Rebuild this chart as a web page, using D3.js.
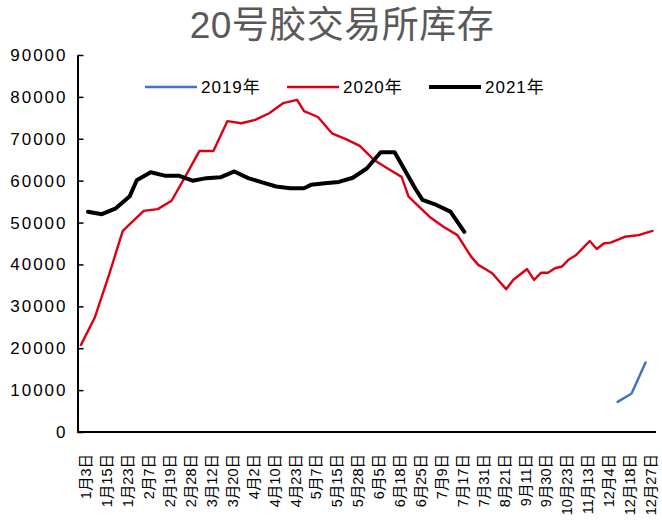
<!DOCTYPE html>
<html>
<head>
<meta charset="utf-8">
<script src="https://cdn.jsdelivr.net/npm/d3@7/dist/d3.min.js"></script>
<style>
  html, body { margin: 0; padding: 0; background: #fff; }
  svg { display: block; }
  text { font-family: "Liberation Sans", Arial, "Noto Sans CJK SC", sans-serif; }
</style>
</head>
<body>
<svg id="chart" width="662" height="526"></svg>
<script>
// Weekly exchange stock of TSR20 rubber, one line per year,
// drawn on a shared month-day category axis.
const categories = ["1月3日","1月8日","1月10日","1月15日","1月17日","1月22日","1月23日","1月29日",
  "2月5日","2月7日","2月10日","2月14日","2月19日","2月21日","2月26日","2月28日",
  "3月5日","3月6日","3月12日","3月13日","3月19日","3月20日","3月26日","3月27日",
  "4月2日","4月3日","4月9日","4月10日","4月16日","4月17日","4月23日","4月24日","4月30日",
  "5月7日","5月8日","5月14日","5月15日","5月21日","5月22日","5月28日","5月29日",
  "6月4日","6月5日","6月11日","6月12日","6月18日","6月19日","6月24日","6月25日",
  "7月2日","7月3日","7月9日","7月10日","7月16日","7月17日","7月23日","7月24日","7月31日",
  "8月7日","8月14日","8月21日","8月28日",
  "9月4日","9月11日","9月18日","9月25日","9月30日",
  "10月9日","10月16日","10月23日","10月30日",
  "11月6日","11月13日","11月20日","11月27日",
  "12月4日","12月11日","12月13日","12月18日","12月20日","12月25日","12月27日","12月31日"];

const dates2019 = ["12月13日","12月20日","12月27日"];
const values2019 = [7200, 9200, 16600];

const dates2020 = ["1月3日","1月10日","1月17日","1月23日","2月7日","2月14日","2月21日","2月28日",
  "3月6日","3月13日","3月20日","3月27日","4月3日","4月10日","4月17日","4月24日","4月30日",
  "5月8日","5月15日","5月22日","5月29日","6月5日","6月12日","6月19日","6月24日",
  "7月3日","7月10日","7月17日","7月24日","7月31日","8月7日","8月14日","8月21日","8月28日",
  "9月4日","9月11日","9月18日","9月25日","9月30日","10月9日","10月16日","10月23日","10月30日",
  "11月6日","11月13日","11月20日","11月27日","12月4日","12月11日","12月18日","12月25日","12月31日"];
const values2020 = [20800, 27400, 37400, 48000, 52800, 53200, 55200, 61100,
  67100, 67100, 74200, 73700, 74500, 76100, 78500, 79300, 76600,
  75200, 71300, 69900, 68300, 65000, 62900, 60900, 56200,
  51400, 49000, 47000, 41800, 39900, 38900, 37900, 36000, 34100,
  36300, 37600, 38900, 36300, 38000, 38000, 39100, 39500, 41200,
  42200, 43900, 45600, 43700, 45000, 45200, 46600, 47000, 48000];

const dates2021 = ["1月8日","1月15日","1月22日","1月29日","2月5日","2月10日","2月19日","2月26日",
  "3月5日","3月12日","3月19日","3月26日","4月2日","4月9日","4月16日","4月23日","4月30日",
  "5月7日","5月14日","5月21日","5月28日","6月4日","6月11日","6月18日","6月25日",
  "7月2日","7月9日","7月16日","7月23日"];
const values2021 = [52600, 52000, 53400, 56300, 60100, 62000, 61200, 61200,
  60000, 60600, 60800, 62200, 60600, 59600, 58600, 58200, 58200,
  59000, 59400, 59700, 60700, 62900, 66800, 66800, 58000,
  55400, 54200, 52600, 47800];

const yTicks = [0, 10000, 20000, 30000, 40000, 50000, 60000, 70000, 80000, 90000];
const seriesNames = ["2019年", "2020年", "2021年"];
const seriesColors = ["#4472C4", "#DC0010", "#000000"];
const seriesWidths = [2.5, 2.4, 4];

const series = [
  { name: seriesNames[0], dates: dates2019, values: values2019 },
  { name: seriesNames[1], dates: dates2020, values: values2020 },
  { name: seriesNames[2], dates: dates2021, values: values2021 }
].map((s, i) => ({
  ...s, color: seriesColors[i], width: seriesWidths[i],
  points: s.dates.map((d, j) => ({ cat: d, v: s.values[j] }))
}));

const svg = d3.select("#chart");
const plotLeft = 77.5, plotRight = 656, plotTop = 55, plotBottom = 432;

const x = d3.scalePoint().domain(categories).range([plotLeft, plotRight]).padding(0.5);
const y = d3.scaleLinear().domain([0, 90000]).range([plotBottom, plotTop]);

// title
svg.append("text")
  .attr("x", 342).attr("y", 38)
  .attr("text-anchor", "middle")
  .attr("fill", "#595959")
  .style("font-size", "37px")
  .style("letter-spacing", "0.5px")
  .text("20号胶交易所库存");

// y axis with inward ticks
const yAxis = svg.append("g")
  .attr("transform", `translate(${plotLeft},0)`)
  .call(d3.axisLeft(y).tickValues(yTicks).tickSizeInner(-6).tickSizeOuter(0).tickPadding(10)
    .tickFormat(d3.format("d")));
yAxis.select(".domain").attr("stroke", "#000").attr("stroke-width", 2);
yAxis.selectAll(".tick line").attr("stroke", "#000").attr("stroke-width", 1.5);
yAxis.selectAll(".tick text")
  .attr("fill", "#000")
  .style("font-size", "17px")
  .style("letter-spacing", "2px");

// x axis: every third category labelled, rotated
const xAxis = svg.append("g")
  .attr("transform", `translate(0,${plotBottom})`)
  .call(d3.axisBottom(x).tickValues(categories.filter((d, i) => i % 3 === 0)).tickSize(0).tickSizeOuter(0));
xAxis.select(".domain").attr("stroke", "#000").attr("stroke-width", 2)
  .attr("d", `M${plotLeft},0H${plotRight}`);
xAxis.selectAll(".tick text")
  .attr("fill", "#000")
  .style("font-size", "14.5px")
  .attr("text-anchor", "end")
  .attr("dy", null)
  .attr("dominant-baseline", "central")
  .attr("transform", "translate(5,22) rotate(-90)")
  .attr("y", 0).attr("x", 0);

// lines, gaps in each year's dates are bridged
const line = d3.line().x(d => x(d.cat)).y(d => y(d.v));
svg.append("g").selectAll("path")
  .data(series)
  .join("path")
  .attr("d", s => line(s.points))
  .attr("fill", "none")
  .attr("stroke", s => s.color)
  .attr("stroke-width", s => s.width)
  .attr("stroke-linejoin", "round")
  .attr("stroke-linecap", "round");

// legend
const legendX = [145, 287, 429];
const legend = svg.append("g").selectAll("g")
  .data(series)
  .join("g")
  .attr("transform", (s, i) => `translate(${legendX[i]},87)`);
legend.append("line")
  .attr("x1", 0).attr("x2", 52)
  .attr("stroke", s => s.color)
  .attr("stroke-width", s => s.width);
legend.append("text")
  .attr("x", 56).attr("y", 0)
  .attr("dominant-baseline", "central")
  .attr("fill", "#000")
  .style("font-size", "17px")
  .style("letter-spacing", "1px")
  .text(s => s.name);
</script>
</body>
</html>
